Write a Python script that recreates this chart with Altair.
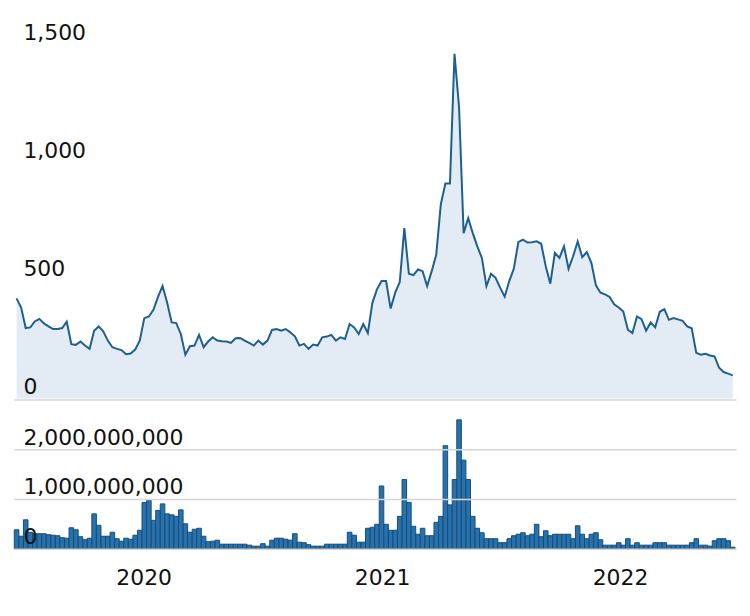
import altair as alt
import pandas as pd

# weekly observations
start_date = "2019-06-20"
n_weeks = 158

price = [
    424, 385, 298, 301, 326, 337, 318, 305, 294, 294,
    298, 325, 230, 227, 241, 224, 210, 287, 305, 284,
    245, 217, 210, 205, 187, 190, 207, 245, 340, 347,
    375, 430, 476, 406, 322, 319, 273, 185, 221, 224,
    269, 217, 241, 259, 245, 242, 241, 235, 255, 256,
    245, 235, 224, 245, 228, 245, 290, 294, 287, 294,
    280, 263, 224, 231, 210, 228, 224, 259, 262, 269,
    245, 259, 252, 315, 301, 273, 315, 277, 405, 462,
    497, 497, 381, 448, 493, 721, 528, 522, 546, 539,
    476, 539, 609, 822, 910, 910, 1459, 1232, 700, 763,
    700, 644, 595, 476, 528, 511, 469, 431, 497, 549,
    662, 672, 660, 661, 665, 655, 560, 486, 616, 595,
    644, 549, 602, 665, 598, 620, 574, 479, 448, 441,
    430, 399, 385, 368, 291, 277, 347, 336, 287, 322,
    301, 367, 378, 333, 340, 335, 329, 305, 297, 193,
    185, 189, 182, 178, 130, 112, 105, 98,
]

# volume in billions
volume_bn = [
    0.38, 0.25, 0.58, 0.33, 0.30, 0.30, 0.30, 0.28, 0.27, 0.26,
    0.22, 0.21, 0.42, 0.38, 0.24, 0.18, 0.21, 0.70, 0.47, 0.25,
    0.25, 0.33, 0.20, 0.15, 0.21, 0.19, 0.27, 0.37, 0.93, 0.97,
    0.57, 0.77, 0.90, 0.70, 0.68, 0.65, 0.78, 0.50, 0.33, 0.39,
    0.41, 0.25, 0.14, 0.15, 0.17, 0.09, 0.09, 0.09, 0.09, 0.09,
    0.09, 0.07, 0.05, 0.05, 0.10, 0.05, 0.17, 0.21, 0.21, 0.19,
    0.17, 0.30, 0.13, 0.12, 0.08, 0.05, 0.05, 0.05, 0.09, 0.09,
    0.09, 0.09, 0.09, 0.33, 0.27, 0.13, 0.13, 0.41, 0.43,
    0.49, 1.26, 0.49, 0.37, 0.37, 0.65, 1.39, 0.93, 0.45, 0.29,
    0.41, 0.26, 0.26, 0.53, 0.65, 2.07, 0.88, 1.39, 2.59, 1.78,
    1.39, 0.65, 0.41, 0.32, 0.20, 0.20, 0.20, 0.12, 0.12, 0.20,
    0.26, 0.29, 0.32, 0.26, 0.29, 0.49, 0.24, 0.36, 0.26, 0.29,
    0.29, 0.29, 0.29, 0.20, 0.46, 0.29, 0.20, 0.29, 0.32, 0.18,
    0.07, 0.07, 0.07, 0.12, 0.07, 0.20, 0.07, 0.12, 0.07, 0.07,
    0.07, 0.12, 0.12, 0.12, 0.07, 0.07, 0.07, 0.07, 0.07,
    0.12, 0.20, 0.07, 0.07, 0.05, 0.16, 0.20, 0.20, 0.16, 0.03,
]

year_ticks = ["2020", "2021", "2022"]

dates = pd.date_range(start_date, periods=n_weeks, freq="7D")
df = pd.DataFrame({
    "date": dates,
    "start": dates - pd.Timedelta(hours=84),
    "end": dates + pd.Timedelta(hours=84),
    "price": price[:n_weeks],
    "volume": [v * 1e9 for v in volume_bn[:n_weeks]],
})

x_domain = [
    alt.DateTime(year=2019, month=6, date=16),
    alt.DateTime(year=2022, month=6, date=28),
]
x_scale = alt.Scale(domain=x_domain)

LINE = "#1d5f91"
FILL = "#e3ecf4"
BAR = "#2771ad"
BAR_EDGE = "#174d78"

base = alt.Chart(df)

price_area = base.mark_area(color=FILL).encode(
    x=alt.X("date:T", scale=x_scale, axis=None),
    y=alt.Y(
        "price:Q",
        scale=alt.Scale(domain=[0, 1500]),
        axis=alt.Axis(
            values=[0, 500, 1000, 1500], format=",d", grid=False,
            domain=False, ticks=False, labelAlign="left",
            labelBaseline="bottom", labelPadding=-9, title=None, zindex=1,
        ),
    ),
)
price_line = base.mark_line(color=LINE, strokeWidth=2).encode(
    x=alt.X("date:T", scale=x_scale, axis=None),
    y="price:Q",
)
price_chart = alt.layer(price_area, price_line).properties(width=726, height=380)

vol_chart = base.mark_bar(color=BAR, stroke=BAR_EDGE, strokeWidth=1).encode(
    x=alt.X(
        "start:T", scale=x_scale,
        axis=alt.Axis(
            values=[alt.DateTime(year=int(y), month=1, date=1) for y in year_ticks],
            format="%Y", domain=False, ticks=False, grid=False,
            labelPadding=19, title=None,
        ),
    ),
    x2="end:T",
    y=alt.Y(
        "volume:Q",
        scale=alt.Scale(domain=[0, 3e9]),
        axis=alt.Axis(
            values=[0, 1e9, 2e9, 3e9], format=",d", grid=True,
            gridColor="#d6d6d6", gridWidth=1.5,
            domain=False, ticks=False, labelAlign="left",
            labelBaseline="bottom", labelPadding=-9, title=None, zindex=1,
            labelExpr="datum.value >= 3000000000 ? '' : datum.label",
        ),
    ),
    y2=alt.datum(0),
).properties(width=726, height=150)

chart = (
    alt.vconcat(price_chart, vol_chart, spacing=1, bounds="flush")
    .properties(padding={"left": 4, "right": 4, "top": 10, "bottom": 5})
    .configure_axis(labelFont="DejaVu Sans", labelFontSize=22, labelColor="#111111")
    .configure_view(stroke="transparent")
)

chart.save("out.html", embed_options={"renderer": "svg", "actions": False})
